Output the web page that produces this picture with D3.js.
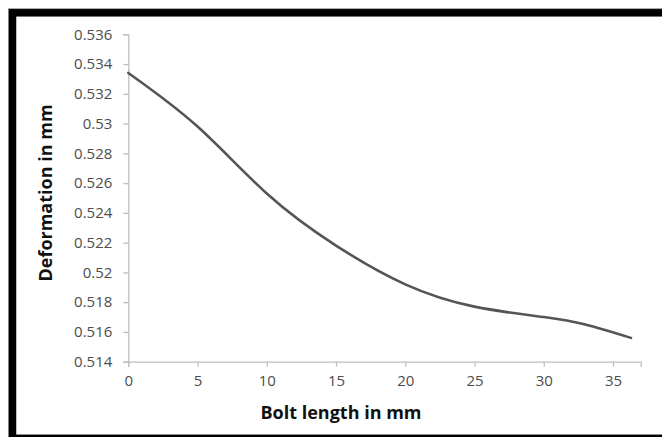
<!DOCTYPE html>
<html>
<head>
<meta charset="utf-8">
<script src="https://cdn.jsdelivr.net/npm/d3@7"></script>
<style>
  html, body { margin: 0; padding: 0; background: #fff; }
  svg { display: block; }
</style>
</head>
<body>
<svg id="chart" width="662" height="437"></svg>
<script>
const boltLength = [0, 5, 10, 15, 20, 25, 30, 33, 36.3];
const deformation = [0.5334, 0.5298, 0.5253, 0.5218, 0.5192, 0.5177, 0.5170, 0.5165, 0.5156];
const xTicks = [0, 5, 10, 15, 20, 25, 30, 35];
const yTicks = [0.514, 0.516, 0.518, 0.52, 0.522, 0.524, 0.526, 0.528, 0.53, 0.532, 0.534, 0.536];
const xTitle = "Bolt length in mm";
const yTitle = "Deformation in mm";

const svg = d3.select("#chart");
const font = "'Open Sans', sans-serif";

// frame
svg.append("rect").attr("x", 8.5).attr("y", 8.5).attr("width", 700).attr("height", 440)
  .attr("fill", "none").attr("stroke", "#aaa").attr("stroke-width", 1);
svg.append("rect").attr("x", 12.5).attr("y", 12.8).attr("width", 700).attr("height", 425.5)
  .attr("fill", "none").attr("stroke", "#000").attr("stroke-width", 7.5);

const x = d3.scaleLinear().domain([0, 37]).range([128.3, 640.7]);
const y = d3.scaleLinear().domain([0.514, 0.536]).range([361.7, 34.3]);

const xAxis = svg.append("g").attr("transform", `translate(0,${y(0.514)})`)
  .call(d3.axisBottom(x).tickValues(xTicks).tickSize(5).tickPadding(9).tickFormat(d3.format("d")));
const yAxis = svg.append("g").attr("transform", `translate(${x(0)},0)`)
  .call(d3.axisLeft(y).tickValues(yTicks).tickSize(5).tickPadding(11).tickFormat(d => String(+d.toFixed(3))));

[xAxis, yAxis].forEach(g => {
  g.select(".domain").attr("stroke", "#bfbfbf").attr("stroke-width", 1.3);
  g.selectAll(".tick line").attr("stroke", "#bfbfbf").attr("stroke-width", 1.3);
  g.selectAll(".tick text").attr("fill", "#4d4d4d").style("font-family", font).style("font-size", "15px");
});

const line = d3.line()
  .x((d, i) => x(boltLength[i]))
  .y(d => y(d))
  .curve(d3.curveNatural);

svg.append("path").datum(deformation)
  .attr("d", line)
  .attr("fill", "none")
  .attr("stroke", "#555")
  .attr("stroke-width", 2.6)
  .attr("stroke-linecap", "round");

svg.append("text").attr("x", 341).attr("y", 419)
  .attr("text-anchor", "middle")
  .style("font-family", font).style("font-weight", "bold").style("font-size", "18px")
  .attr("fill", "#111").text(xTitle);

svg.append("text").attr("transform", "translate(52,193) rotate(-90)")
  .attr("text-anchor", "middle")
  .style("font-family", font).style("font-weight", "bold").style("font-size", "18px")
  .attr("fill", "#111").text(yTitle);
</script>
</body>
</html>
